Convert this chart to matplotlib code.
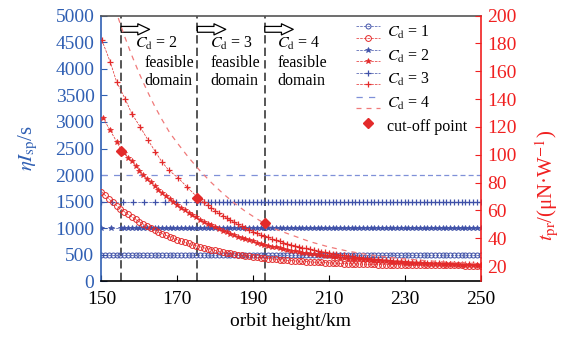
import numpy as np
import matplotlib
matplotlib.use("Agg")
import matplotlib.pyplot as plt
from matplotlib.legend_handler import HandlerBase
from matplotlib.lines import Line2D

plt.rcParams['font.family'] = ['Liberation Serif', 'DejaVu Serif']
plt.rcParams['mathtext.fontset'] = 'stix'

BLUE = '#3f51a8'
RED = '#e32a2a'
LBLUE = '#7f90d8'
LRED = '#f07a7a'
AXBLUE = '#2f5fb3'
AXRED = '#f02020'

# ---- data ----
cd_labels = ['$C_{\\rm d}$ = 1', '$C_{\\rm d}$ = 2', '$C_{\\rm d}$ = 3', '$C_{\\rm d}$ = 4']
isp_levels = [500, 1000, 1500, 2000]          # eta*Isp, s (left axis)

cutoff_h = [155.2, 175.3, 193.1]               # km
cutoff_tpr = [102.5, 69.2, 50.8]               # uN/W (right axis)

h_isp1 = list(range(150, 251))
h_isp2 = [150.0, 152.6, 155.2] + list(range(156, 251))
h_isp3 = [150.0, 152.8, 155.6, 158.4, 161.2, 164.0, 166.8, 169.6, 172.4, 175.3] + list(range(176, 251))
h_isp4a = [150, 193.1]
h_isp4b = [193.1, 250]

h_tpr1 = list(range(150, 251))
tpr_cd1 = [73.5, 70.8, 68.2, 65.8, 63.5, 61.3, 59.2, 57.2, 55.3, 53.6,
           51.9, 50.3, 48.7, 47.3, 45.9, 44.6, 43.4, 42.2, 41.1, 40.0,
           39.0, 38.0, 37.1, 36.3, 35.4, 34.7, 33.9, 33.2, 32.5, 31.9,
           31.3, 30.7, 30.2, 29.7, 29.2, 28.7, 28.3, 27.9, 27.5, 27.1,
           26.7, 26.4, 26.1, 25.8, 25.5, 25.2, 24.9, 24.7, 24.5, 24.2,
           24.0, 23.8, 23.6, 23.4, 23.3, 23.1, 22.9, 22.8, 22.7, 22.5,
           22.4, 22.3, 22.2, 22.0, 21.9, 21.8, 21.8, 21.7, 21.6, 21.5,
           21.4, 21.4, 21.3, 21.2, 21.2, 21.1, 21.0, 21.0, 21.0, 20.9,
           20.9, 20.8, 20.8, 20.8, 20.7, 20.7, 20.7, 20.6, 20.6, 20.6,
           20.6, 20.5, 20.5, 20.5, 20.5, 20.5, 20.4, 20.4, 20.4, 20.4,
           20.4]

h_tpr2 = [150.4, 152.3, 154.0, 155.2] + list(range(156, 251))
tpr_cd2 = [126.5, 117.5, 109.5, 103.5,
           101.0, 98.0, 95.2, 91.9, 88.7, 85.7, 82.9, 80.1, 77.5, 75.0,
           72.5, 70.2, 68.0, 65.9, 63.9, 62.0, 60.1, 58.4, 56.7, 55.1,
           53.5, 52.0, 50.6, 49.3, 48.0, 46.7, 45.5, 44.4, 43.3, 42.3,
           41.3, 40.4, 39.5, 38.6, 37.8, 37.0, 36.2, 35.5, 34.8, 34.1,
           33.5, 32.9, 32.3, 31.7, 31.2, 30.7, 30.2, 29.7, 29.3, 28.9,
           28.5, 28.1, 27.7, 27.4, 27.0, 26.7, 26.4, 26.1, 25.8, 25.5,
           25.3, 25.0, 24.8, 24.5, 24.3, 24.1, 23.9, 23.7, 23.5, 23.4,
           23.2, 23.0, 22.9, 22.7, 22.6, 22.5, 22.3, 22.2, 22.1, 22.0,
           21.9, 21.8, 21.7, 21.6, 21.5, 21.4, 21.3, 21.3, 21.2, 21.1,
           21.0, 21.0, 20.9, 20.9, 20.8]

h_tpr3 = [150.1, 152.3, 154.0, 156.2, 158.0, 160.2, 162.2, 164.2, 165.9,
          167.7, 170.3, 172.5, 175.3] + list(range(176, 251))
tpr_cd3 = [182.4, 166.8, 152.4, 140.4, 129.6, 120.1, 110.9, 102.3, 95.1,
           89.1, 83.2, 77.1, 69.5,
           68.1, 65.9, 63.8, 61.8, 59.9, 58.1, 56.3, 54.6, 53.0, 51.5,
           50.0, 48.7, 47.3, 46.1, 44.9, 43.7, 42.6, 41.6, 40.6, 39.6,
           38.7, 37.8, 37.0, 36.2, 35.4, 34.7, 34.0, 33.4, 32.7, 32.1,
           31.5, 31.0, 30.5, 30.0, 29.5, 29.1, 28.6, 28.2, 27.8, 27.4,
           27.1, 26.7, 26.4, 26.1, 25.8, 25.5, 25.2, 25.0, 24.7, 24.5,
           24.2, 24.0, 23.8, 23.6, 23.4, 23.3, 23.1, 22.9, 22.8, 22.6,
           22.5, 22.4, 22.2, 22.1, 22.0, 21.9, 21.8, 21.7, 21.6, 21.5,
           21.4, 21.3, 21.3, 21.2, 21.1]

h_tpr4 = [152, 154, 156, 158, 160, 162, 164, 166, 168, 170, 173, 176, 179, 182,
          185, 188, 191, 193.1, 196, 200, 205, 210, 215, 220, 225, 230, 235,
          240, 245, 250]
tpr_cd4 = [219.0, 201.7, 185.8, 171.4, 158.2, 146.2, 135.1, 125.1, 115.9, 108.5,
           98.0, 88.5, 80.0, 72.3, 65.4, 59.3, 54.0, 50.6, 46.5, 42.5,
           37.6, 33.8, 30.8, 28.4, 26.7, 25.2, 24.1, 23.1, 22.4, 21.8]

x_ticks = [150, 170, 190, 210, 230, 250]
left_ticks = list(range(0, 5001, 500))
right_ticks = list(range(20, 201, 20))
text_dx_cd = [3.6, 3.3, 3.2]
text_dx_feas = [6.1, 3.4, 3.4]


class PairHandler(HandlerBase):
    # two legend lines (blue over red) next to one label
    def create_artists(self, legend, orig_handle, xdescent, ydescent,
                       width, height, fontsize, trans):
        arts = []
        x0 = -xdescent
        for k, src in enumerate(orig_handle):
            y = -ydescent + height * (0.78 - 0.56 * k)
            seg = Line2D([x0, x0 + width], [y, y])
            seg.update_from(src)
            seg.set_marker('')
            seg.set_transform(trans)
            arts.append(seg)
            if src.get_marker() not in ('', 'None', None):
                mk = Line2D([x0 + width / 2], [y])
                mk.update_from(src)
                mk.set_linestyle('none')
                mk.set_transform(trans)
                arts.append(mk)
        return arts


fig = plt.figure(figsize=(5.62, 3.41), dpi=100)
ax = fig.add_axes([0.1805, 0.1745, 0.6745, 0.78])
ax2 = ax.twinx()

# blue: eta*Isp (left axis)
b1, = ax.plot(h_isp1, np.full(len(h_isp1), isp_levels[0]), ls='--', lw=0.5, color=BLUE,
              marker='o', ms=3.6, mfc='none', mec=BLUE, mew=0.7)
b2, = ax.plot(h_isp2, np.full(len(h_isp2), isp_levels[1]), ls='--', lw=0.5, color=BLUE,
              marker='*', ms=4.0, mec=BLUE, mfc=BLUE, mew=0.5)
b3, = ax.plot(h_isp3, np.full(len(h_isp3), isp_levels[2]), ls='--', lw=0.5, color=BLUE,
              marker='+', ms=5.0, mew=0.9)
b4, = ax.plot(h_isp4a, [isp_levels[3]] * 2, ls=(0, (5, 5)), lw=0.9, color=LBLUE)
ax.plot(h_isp4b, [isp_levels[3]] * 2, ls=(0, (4, 2.5)), lw=0.9, color=LBLUE)

# red: thrust-to-power ratio (right axis)
r1, = ax2.plot(h_tpr1, tpr_cd1, ls='--', lw=0.5, color=RED,
               marker='o', ms=4.2, mfc='none', mec=RED, mew=0.7)
r2, = ax2.plot(h_tpr2, tpr_cd2, ls='--', lw=0.5, color=RED,
               marker='*', ms=4.2, mfc=RED, mec=RED, mew=0.5)
r3, = ax2.plot(h_tpr3, tpr_cd3, ls='--', lw=0.5, color=RED,
               marker='+', ms=5.0, mew=0.9)
r4, = ax2.plot(h_tpr4, tpr_cd4, ls=(0, (4, 4)), lw=0.9, color=LRED)
cp, = ax2.plot(cutoff_h, cutoff_tpr, ls='none', marker='D', ms=5.5, color=RED, mec=RED)

for i, hc in enumerate(cutoff_h):
    ax.axvline(hc, color='#3a3a3a', ls=(0, (5, 2.5)), lw=1.2, zorder=1)
    ax.annotate('', xy=(hc + 7.5, 4740), xytext=(hc, 4740),
                arrowprops=dict(arrowstyle='simple,head_length=0.85,head_width=0.8,tail_width=0.42',
                                fc='white', ec='black', lw=0.9, shrinkA=0, shrinkB=0,
                                mutation_scale=10))
    ax.text(hc + text_dx_cd[i], 4470, cd_labels[i + 1], fontsize=11.5, ha='left', va='center')
    ax.text(hc + text_dx_feas[i], 4110, 'feasible', fontsize=11.5, ha='left', va='center')
    ax.text(hc + text_dx_feas[i], 3770, 'domain', fontsize=11.5, ha='left', va='center')

ax.set_xlim(150, 250)
ax.set_ylim(0, 5000)
ax2.set_ylim(9, 200)
ax.set_xticks(x_ticks)
ax.set_yticks(left_ticks)
ax2.set_yticks(right_ticks)

ax.tick_params(axis='x', direction='in', length=4, labelsize=14, pad=7, colors='black')
ax.tick_params(axis='y', direction='in', length=4, labelsize=14, pad=5, colors=AXBLUE)
ax2.tick_params(axis='y', direction='in', length=4, labelsize=14, pad=5, colors=AXRED)

ax.spines['left'].set_color(AXBLUE)
ax.spines['top'].set_color('#555555')
ax.spines['right'].set_visible(False)
ax2.spines['right'].set_color(AXRED)
for s in ('left', 'top', 'bottom'):
    ax2.spines[s].set_visible(False)
for sp in list(ax.spines.values()) + list(ax2.spines.values()):
    sp.set_linewidth(1.2)

ax.set_xlabel('orbit height/km', fontsize=14, labelpad=3.5)
ax.set_ylabel('$\\eta I_{\\rm sp}$/s', fontsize=15, color=AXBLUE)
ax.yaxis.set_label_coords(-0.162, 0.5)
ax2.set_ylabel('$t_{\\rm pr}$/(μN·W$^{-1}$)', fontsize=15, color=AXRED)
ax2.yaxis.set_label_coords(1.14, 0.36)

handles = [(b1, r1), (b2, r2), (b3, r3), (b4, r4), cp]
labels = cd_labels + ['cut-off point']
ax2.legend(handles, labels, handler_map={tuple: PairHandler()},
           loc='upper left', bbox_to_anchor=(0.655, 1.0), frameon=False,
           fontsize=11.5, handlelength=1.5, handleheight=1.57, handletextpad=0.45,
           labelspacing=0.2, borderpad=0.2, borderaxespad=0.2)

fig.savefig('out.png', dpi=100)
